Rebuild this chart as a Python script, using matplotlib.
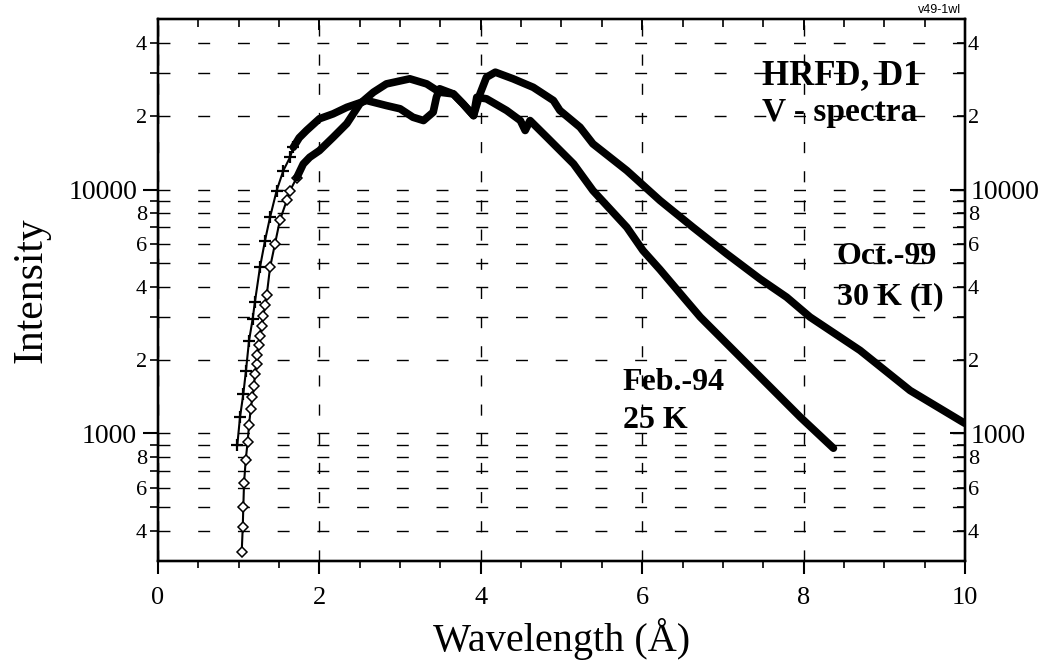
import math
import matplotlib
matplotlib.use("Agg")
import matplotlib.pyplot as plt
from matplotlib.ticker import FixedLocator, FuncFormatter, MultipleLocator

# ---------------- data ----------------
oct_x = [0.983, 1.016, 1.057, 1.09, 1.128, 1.173, 1.2, 1.264, 1.326, 1.388, 1.47, 1.553, 1.636,
         1.677, 1.75, 1.84, 2.0, 2.17, 2.34, 2.585, 2.83, 3.0, 3.16, 3.29, 3.41, 3.45, 3.49,
         3.66, 3.78, 3.91, 3.99, 4.07, 4.18, 4.40, 4.65, 4.90, 4.98, 5.23, 5.39, 5.81, 6.22,
         6.63, 7.05, 7.46, 7.79, 8.08, 8.70, 9.32, 9.94, 10.0]
oct_y = [900, 1166, 1453, 1811, 2403, 2950, 3450, 4810, 6180, 7690, 9900, 11960, 13560,
         14900, 16300, 17460, 19500, 20430, 21730, 23170, 22090, 21430, 19780, 19180, 20750, 23880, 25880,
         24650, 22440, 20090, 24650, 28840, 30270, 28440, 26240, 23170, 21090, 18000, 15390, 11960, 9020,
         7000, 5440, 4300, 3620, 3000, 2190, 1500, 1130, 1100]
oct_n_markers = 13   # first points drawn with visible '+' markers

feb_x = [1.037, 1.05, 1.057, 1.066, 1.087, 1.11, 1.128, 1.149, 1.17, 1.19, 1.20, 1.223, 1.23,
         1.248, 1.264, 1.285, 1.305, 1.326, 1.347, 1.388, 1.45, 1.51, 1.595, 1.636, 1.72, 1.80,
         1.88, 2.0, 2.17, 2.34, 2.50, 2.67, 2.83, 3.12, 3.33, 3.49, 3.66, 3.78, 3.91, 3.95, 4.07,
         4.32, 4.49, 4.55, 4.61, 4.82, 5.15, 5.39, 5.81, 6.01, 6.22, 6.51, 6.72, 7.34, 7.96, 8.37]
feb_y = [326, 413, 500, 626, 780, 921, 1085, 1263, 1408, 1559, 1745, 1932, 2090,
         2295, 2515, 2770, 3020, 3350, 3680, 4790, 6000, 7470, 9020, 9900, 11200, 12730,
         13560, 14440, 16370, 18640, 22440, 25060, 27100, 28440, 27100, 25060, 24650, 22440, 20090, 23880, 23550,
         21090, 19180, 17460, 19180, 16370, 12730, 9900, 7000, 5620, 4700, 3620, 3000, 1870, 1166, 870]
feb_n_markers = 24

x_ticks = [0, 2, 4, 6, 8, 10]
y_major = [1000, 10000]
y_minor = [400, 500, 600, 700, 800, 900, 2000, 3000, 4000, 5000, 6000, 7000, 8000, 9000,
           20000, 30000, 40000]
y_label_digits = [2, 4, 6, 8]

SERIF = ["Liberation Serif", "DejaVu Serif"]

fig = plt.figure(figsize=(10.5, 6.65), dpi=100)
ax = fig.add_axes([0.1505, 0.1564, 0.7685, 0.815])
ax.set_yscale("log")
ax.set_xlim(0, 10)
ax.set_ylim(300, 50000)

# ---------------- curves ----------------
k = oct_n_markers
ax.plot(oct_x[:k + 1], oct_y[:k + 1], color="black", lw=1.5, marker="+", ms=9, mew=1.6, zorder=4)
ax.plot(oct_x[k:], oct_y[k:], color="black", lw=5.5, solid_joinstyle="round",
        solid_capstyle="round", zorder=4)

k = feb_n_markers
ax.plot(feb_x[:k + 1], feb_y[:k + 1], color="black", lw=1.5, marker="D", ms=5,
        mfc="white", mec="black", mew=1.1, zorder=5)
ax.plot(feb_x[k:], feb_y[k:], color="black", lw=5.5, solid_joinstyle="round",
        solid_capstyle="round", zorder=5)

# ---------------- axes / ticks ----------------
def ylab(v, pos):
    e = math.floor(math.log10(v) + 1e-9)
    m = round(v / 10 ** e)
    if m == 1:
        return "%d" % round(v)
    return str(m) if m in y_label_digits else ""


def setup_y(a):
    a.yaxis.set_major_locator(FixedLocator(y_major))
    a.yaxis.set_minor_locator(FixedLocator(y_minor))
    a.yaxis.set_major_formatter(FuncFormatter(ylab))
    a.yaxis.set_minor_formatter(FuncFormatter(ylab))


setup_y(ax)
ax.set_xticks(x_ticks)
ax.xaxis.set_minor_locator(MultipleLocator(0.5))

ax.tick_params(axis="y", which="major", direction="out", length=11, width=1.5, pad=4, labelsize=20)
ax.tick_params(axis="y", which="minor", direction="out", length=6, width=1.2, pad=2, labelsize=16)
ax.tick_params(axis="x", which="major", direction="out", length=9, width=1.5, pad=10, labelsize=19)
ax.tick_params(axis="x", which="minor", direction="out", length=5, width=1.2)
ax.tick_params(top=False, right=False)

# right axis (ticks inward, same labels)
ay = ax.twinx()
ay.set_yscale("log")
ay.set_ylim(ax.get_ylim())
setup_y(ay)
ay.tick_params(which="major", direction="in", length=11, width=1.5, pad=4, labelsize=20)
ay.tick_params(which="minor", direction="in", length=6, width=1.2, pad=2, labelsize=16)

# top axis (ticks inward, no labels)
axt = ax.twiny()
axt.set_xlim(ax.get_xlim())
axt.set_xticks(x_ticks)
axt.xaxis.set_minor_locator(MultipleLocator(0.5))
axt.tick_params(axis="x", which="major", direction="in", length=8, width=1.4, labeltop=False)
axt.tick_params(axis="x", which="minor", direction="in", length=6, width=1.2)
axt.tick_params(axis="y", which="both", left=False, right=False, labelleft=False, labelright=False)

for lab in (ax.get_xticklabels() + ax.get_yticklabels() + ax.get_yticklabels(minor=True)
            + ay.get_yticklabels() + ay.get_yticklabels(minor=True)):
    lab.set_family(SERIF)

for a in (ax, ay, axt):
    for s in a.spines.values():
        s.set_linewidth(1.6)

# dashed grid
ax.grid(True, axis="y", which="both", color="black", lw=1.0, linestyle=(0, (8.6, 20)))
ax.grid(True, axis="x", which="major", color="black", lw=1.0, linestyle=(0, (8, 13)))
ax.set_axisbelow(True)

ax.set_xlabel("Wavelength (Å)", family=SERIF, fontsize=29, labelpad=6)
ax.set_ylabel("Intensity", family=SERIF, fontsize=30, labelpad=13)

# ---------------- annotations ----------------
ax.text(7.48, 29300, "HRFD, D1", family=SERIF, fontweight="bold", fontsize=25, ha="left", va="center")
ax.text(7.48, 20700, "V - spectra", family=SERIF, fontweight="bold", fontsize=24, ha="left", va="center")
ax.text(8.41, 5310, "Oct.-99", family=SERIF, fontweight="bold", fontsize=23, ha="left", va="center")
ax.text(8.41, 3640, "30 K (I)", family=SERIF, fontweight="bold", fontsize=23, ha="left", va="center")
ax.text(5.76, 1618, "Feb.-94", family=SERIF, fontweight="bold", fontsize=23, ha="left", va="center")
ax.text(5.76, 1130, "25 K", family=SERIF, fontweight="bold", fontsize=23, ha="left", va="center")
fig.text(0.915, 0.985, "v49-1wl", family=["Liberation Sans", "DejaVu Sans"], fontsize=9,
         ha="right", va="center")

fig.savefig("out.png", dpi=100)
